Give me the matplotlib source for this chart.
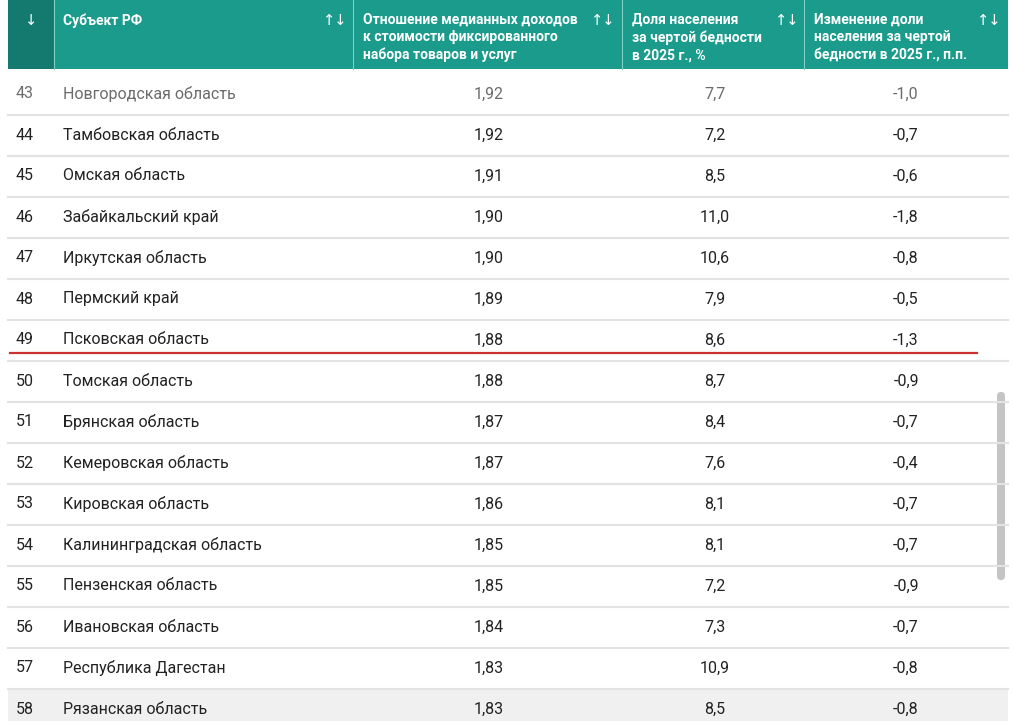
import matplotlib.pyplot as plt
from matplotlib.patches import Rectangle, FancyBboxPatch

plt.rcParams['font.family'] = ['Roboto', 'DejaVu Sans']

ranks = [43, 44, 45, 46, 47, 48, 49, 50, 51, 52, 53, 54, 55, 56, 57, 58]
regions = ["Новгородская область", "Тамбовская область", "Омская область",
           "Забайкальский край", "Иркутская область", "Пермский край",
           "Псковская область", "Томская область", "Брянская область",
           "Кемеровская область", "Кировская область", "Калининградская область",
           "Пензенская область", "Ивановская область", "Республика Дагестан",
           "Рязанская область"]
ratio = ["1,92", "1,92", "1,91", "1,90", "1,90", "1,89", "1,88", "1,88", "1,87",
         "1,87", "1,86", "1,85", "1,85", "1,84", "1,83", "1,83"]
share = ["7,7", "7,2", "8,5", "11,0", "10,6", "7,9", "8,6", "8,7", "8,4",
         "7,6", "8,1", "8,1", "7,2", "7,3", "10,9", "8,5"]
change = ["-1,0", "-0,7", "-0,6", "-1,8", "-0,8", "-0,5", "-1,3", "-0,9", "-0,7",
          "-0,4", "-0,7", "-0,7", "-0,9", "-0,7", "-0,8", "-0,8"]
headers = ["Субъект РФ",
           "Отношение медианных доходов\nк стоимости фиксированного\nнабора товаров и услуг",
           "Доля населения\nза чертой бедности\nв 2025 г., %",
           "Изменение доли\nнаселения за чертой\nбедности в 2025 г., п.п."]

W, H = 1013, 721
fig = plt.figure(figsize=(W / 100, H / 100), dpi=100)
ax = fig.add_axes([0, 0, 1, 1])
ax.set_xlim(0, W)
ax.set_ylim(H, 0)
ax.axis('off')

teal = '#1a9b8c'
dark = '#147a70'
ax.add_patch(Rectangle((8, 0), 1000, 69, color=teal, lw=0))
ax.add_patch(Rectangle((8, 0), 46, 69, color=dark, lw=0))
for x in [54, 353, 622, 804]:
    ax.plot([x, x], [0, 69], color='#7fcfc4', lw=0.8)
ax.text(31, 21, "↓", color='white', fontsize=10.5, ha='center', va='center')
hx = [63, 363, 632, 814]
ax_ = [335, 603, 787, 989]
for h, x, a in zip(headers, hx, ax_):
    ax.text(x, 13, h, color='white', fontsize=10, fontweight='semibold', ha='left',
            va='top', linespacing=1.3)
    ax.text(a, 21, "↑↓", color='white', fontsize=10.5, ha='center', va='center')

row_h = 41
y0 = 94
for i, (r, n, a, b, c) in enumerate(zip(ranks, regions, ratio, share, change)):
    y = y0 + i * row_h
    col = '#6b6b6b' if i == 0 else '#222222'
    if i == len(ranks) - 1:
        ax.add_patch(Rectangle((8, y - 20), 1000, 40, color='#f0f0f0', lw=0))
    ax.text(16, y, str(r), fontsize=11.5, color=col, va='center')
    ax.text(63, y, n, fontsize=11.5, color=col, va='center')
    ax.text(489, y, a, fontsize=11.5, color=col, va='center', ha='center')
    ax.text(715, y, b, fontsize=11.5, color=col, va='center', ha='center')
    ax.text(906, y, c, fontsize=11.5, color=col, va='center', ha='center')
    if i < len(ranks) - 1:
        ax.plot([8, 1008], [y + 21, y + 21], color='#e3e3e3', lw=1.5)

ax.plot([10, 977], [353, 353], color='#c8312f', lw=1.6)
ax.add_patch(FancyBboxPatch((997, 392), 8, 188, boxstyle='round,pad=0,rounding_size=4',
                            color='#c4c4c4', lw=0))

fig.savefig('out.png', dpi=100)
